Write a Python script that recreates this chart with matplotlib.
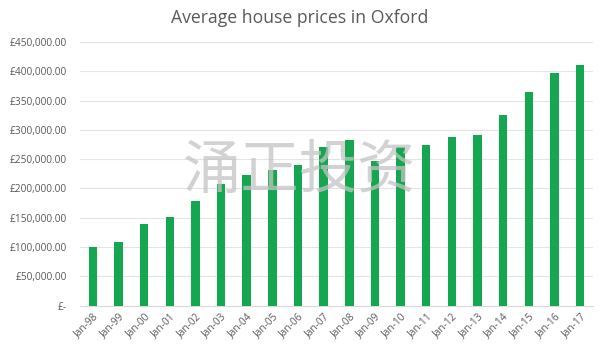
import matplotlib
matplotlib.use("Agg")
import matplotlib.pyplot as plt
from matplotlib.ticker import FuncFormatter, MultipleLocator

categories = ["Jan-98", "Jan-99", "Jan-00", "Jan-01", "Jan-02", "Jan-03", "Jan-04",
              "Jan-05", "Jan-06", "Jan-07", "Jan-08", "Jan-09", "Jan-10", "Jan-11",
              "Jan-12", "Jan-13", "Jan-14", "Jan-15", "Jan-16", "Jan-17"]
prices = [100000, 109000, 139000, 152000, 178000, 208000, 223000,
          232000, 240000, 270000, 283000, 246000, 270000, 274000,
          288000, 292000, 325000, 364000, 397000, 411000]
title = "Average house prices in Oxford"
watermark = "涌正投资"

plt.rcParams['font.family'] = ['Open Sans', 'DejaVu Sans']

fig = plt.figure(figsize=(6.0, 3.49), dpi=100)
ax = fig.add_axes([0.1333, 0.1246, 0.855, 0.7551])

x = list(range(len(categories)))
ax.bar(x, prices, width=0.33, color="#14A74F", zorder=3)

ax.set_xlim(-0.5, len(categories) - 0.5)
ax.set_ylim(0, 450000)
ax.yaxis.set_major_locator(MultipleLocator(50000))

def fmt(v, pos):
    if abs(v) < 1e-6:
        return "£-"
    return "£{:,.2f}".format(v)

ax.yaxis.set_major_formatter(FuncFormatter(fmt))
ax.set_xticks(x)
ax.set_xticklabels(categories, rotation=45, ha="right", rotation_mode="anchor")

ax.grid(axis="y", color="#E3E3E3", linewidth=0.8, zorder=0)
for s in ["top", "right", "left"]:
    ax.spines[s].set_visible(False)
ax.spines["bottom"].set_color("#D9D9D9")
ax.tick_params(axis="both", length=0, labelsize=7.3, colors="#595959")
ax.tick_params(axis="y", pad=9.5)
ax.tick_params(axis="x", pad=4)

fig.text(0.5, 0.948, title, ha="center", va="center", fontsize=12.7, color="#595959")

fig.text(0.5, 0.51, watermark, ha="center", va="center", fontsize=42,
         color="#C4C4C4", alpha=0.75, family=['Noto Sans CJK SC', 'DejaVu Sans'],
         fontweight="light", zorder=5)

fig.savefig("out.png", dpi=100)
